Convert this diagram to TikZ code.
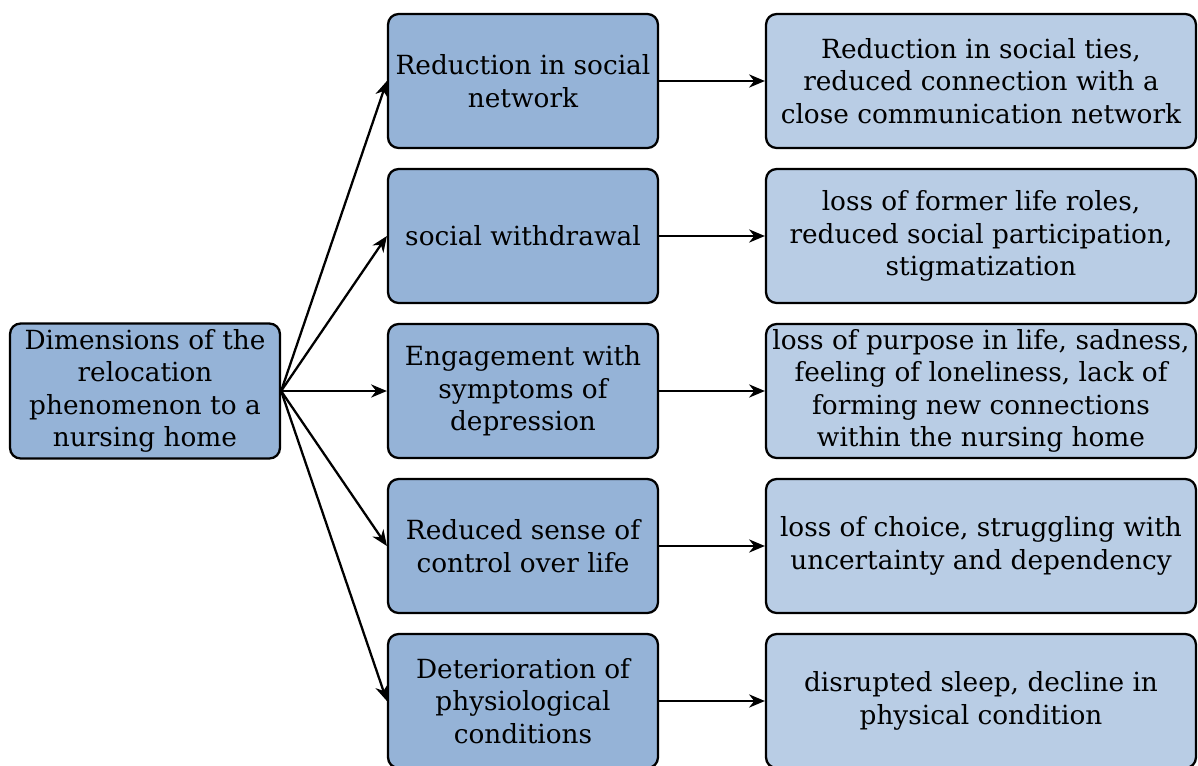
\documentclass[tikz,border=0pt]{standalone}
\usepackage{fontspec}
\setmainfont{DejaVu Serif}
\usetikzlibrary{arrows.meta}

\definecolor{midblue}{HTML}{95B3D7}
\definecolor{lightblue}{HTML}{B9CDE5}

\tikzset{
  box/.style={draw, line width=1.3pt, rounded corners=6pt, align=center,
    font=\fontsize{15}{18.5}\selectfont, inner sep=2pt},
  leftbox/.style={box, fill=midblue, minimum width=5.4cm, minimum height=2.7cm},
  midbox/.style={box, fill=midblue, minimum width=5.4cm, minimum height=2.68cm},
  rightbox/.style={box, fill=lightblue, minimum width=8.6cm, minimum height=2.68cm},
  arr/.style={-{Stealth[length=9pt,width=7.5pt]}, line width=1.3pt}
}

\begin{document}
\begin{tikzpicture}[x=0.02cm,y=-0.02cm]
\useasboundingbox (0,0) rectangle (1198,765);

\node[leftbox] (dim) at (145,391) {Dimensions of the\\relocation\\phenomenon to a\\nursing home};

% middle column
\node[midbox] (m1) at (523,81) {Reduction in social\\network};
\node[midbox] (m2) at (523,236) {social withdrawal};
\node[midbox] (m3) at (523,391) {Engagement with\\symptoms of\\depression};
\node[midbox] (m4) at (523,546) {Reduced sense of\\control over life};
\node[midbox] (m5) at (523,701) {Deterioration of\\physiological\\conditions};

% right column
\node[rightbox] (r1) at (981,81) {Reduction in social ties,\\reduced connection with a\\close communication network};
\node[rightbox] (r2) at (981,236) {loss of former life roles,\\reduced social participation,\\stigmatization};
\node[rightbox] (r3) at (981,391) {loss of purpose in life, sadness,\\feeling of loneliness, lack of\\forming new connections\\within the nursing home};
\node[rightbox] (r4) at (981,546) {loss of choice, struggling with\\uncertainty and dependency};
\node[rightbox] (r5) at (981,701) {disrupted sleep, decline in\\physical condition};

\foreach \i in {1,...,5} {
    \draw[arr] (dim.east) -- (m\i.west);
    \draw[arr] (m\i.east) -- (r\i.west);
}
\end{tikzpicture}
\end{document}
